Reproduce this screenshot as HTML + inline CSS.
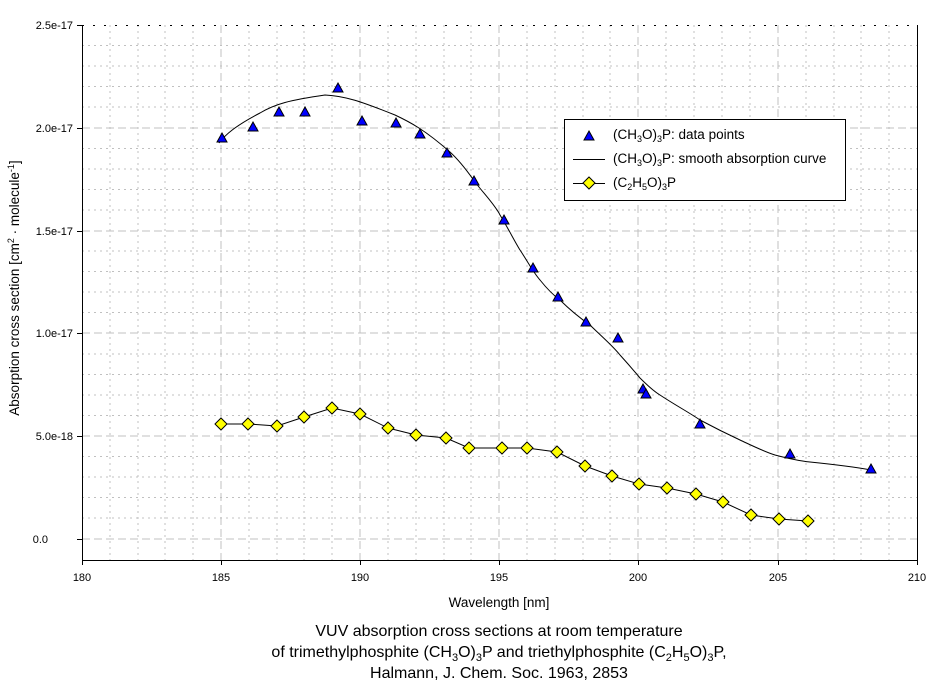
<!DOCTYPE html>
<html><head><meta charset="utf-8"><style>
html,body{margin:0;padding:0;background:#fff;}
svg{display:block;font-family:"Liberation Sans",Arial,sans-serif;}
</style></head><body>
<svg width="942" height="685" viewBox="0 0 942 685" xmlns="http://www.w3.org/2000/svg">
<rect width="942" height="685" fill="#fff"/>
<g stroke="#c0c0c0" stroke-width="1" stroke-dasharray="2,4">
<line x1="110" y1="25" x2="110" y2="560"/><line x1="138" y1="25" x2="138" y2="560"/><line x1="165" y1="25" x2="165" y2="560"/><line x1="193" y1="25" x2="193" y2="560"/>
<line x1="249" y1="25" x2="249" y2="560"/><line x1="277" y1="25" x2="277" y2="560"/><line x1="304" y1="25" x2="304" y2="560"/><line x1="332" y1="25" x2="332" y2="560"/>
<line x1="388" y1="25" x2="388" y2="560"/><line x1="416" y1="25" x2="416" y2="560"/><line x1="444" y1="25" x2="444" y2="560"/><line x1="471" y1="25" x2="471" y2="560"/>
<line x1="527" y1="25" x2="527" y2="560"/><line x1="555" y1="25" x2="555" y2="560"/><line x1="583" y1="25" x2="583" y2="560"/><line x1="610" y1="25" x2="610" y2="560"/>
<line x1="666" y1="25" x2="666" y2="560"/><line x1="694" y1="25" x2="694" y2="560"/><line x1="722" y1="25" x2="722" y2="560"/><line x1="750" y1="25" x2="750" y2="560"/>
<line x1="806" y1="25" x2="806" y2="560"/><line x1="834" y1="25" x2="834" y2="560"/><line x1="861" y1="25" x2="861" y2="560"/><line x1="889" y1="25" x2="889" y2="560"/>
</g>
<g stroke="#c0c0c0" stroke-width="1" stroke-dasharray="2,4">
<line x1="82" y1="45.5" x2="917" y2="45.5"/><line x1="82" y1="66" x2="917" y2="66"/><line x1="82" y1="86.5" x2="917" y2="86.5"/><line x1="82" y1="107" x2="917" y2="107"/>
<line x1="82" y1="148.5" x2="917" y2="148.5"/><line x1="82" y1="169" x2="917" y2="169"/><line x1="82" y1="189.5" x2="917" y2="189.5"/><line x1="82" y1="210" x2="917" y2="210"/>
<line x1="82" y1="251" x2="917" y2="251"/><line x1="82" y1="271.5" x2="917" y2="271.5"/><line x1="82" y1="292" x2="917" y2="292"/><line x1="82" y1="312.5" x2="917" y2="312.5"/>
<line x1="82" y1="354" x2="917" y2="354"/><line x1="82" y1="374.5" x2="917" y2="374.5"/><line x1="82" y1="395" x2="917" y2="395"/><line x1="82" y1="415.5" x2="917" y2="415.5"/>
<line x1="82" y1="456.5" x2="917" y2="456.5"/><line x1="82" y1="477" x2="917" y2="477"/><line x1="82" y1="497.5" x2="917" y2="497.5"/><line x1="82" y1="518" x2="917" y2="518"/>
</g>
<g stroke="#c0c0c0" stroke-width="1" stroke-dasharray="8,4">
<line x1="221" y1="25" x2="221" y2="560"/><line x1="360" y1="25" x2="360" y2="560"/><line x1="499" y1="25" x2="499" y2="560"/><line x1="638" y1="25" x2="638" y2="560"/><line x1="778" y1="25" x2="778" y2="560"/>
<line x1="82" y1="128" x2="917" y2="128"/><line x1="82" y1="231" x2="917" y2="231"/><line x1="82" y1="333" x2="917" y2="333"/><line x1="82" y1="436" x2="917" y2="436"/><line x1="82" y1="539" x2="917" y2="539"/>
</g>
<line x1="82" y1="25.5" x2="917" y2="25.5" stroke="#000" stroke-dasharray="2,9"/>
<line x1="82.5" y1="25" x2="82.5" y2="560" stroke="#000"/>
<line x1="82" y1="560.5" x2="917" y2="560.5" stroke="#000"/>
<line x1="917.5" y1="25" x2="917.5" y2="560" stroke="#000"/>
<g stroke="#000">
<line x1="77" y1="25.5" x2="82" y2="25.5"/><line x1="77" y1="128.5" x2="82" y2="128.5"/><line x1="77" y1="231.5" x2="82" y2="231.5"/><line x1="77" y1="333.5" x2="82" y2="333.5"/><line x1="77" y1="436.5" x2="82" y2="436.5"/><line x1="77" y1="539.5" x2="82" y2="539.5"/>
<line x1="82.5" y1="560" x2="82.5" y2="565"/><line x1="221.5" y1="560" x2="221.5" y2="565"/><line x1="360.5" y1="560" x2="360.5" y2="565"/><line x1="499.5" y1="560" x2="499.5" y2="565"/><line x1="638.5" y1="560" x2="638.5" y2="565"/><line x1="778.5" y1="560" x2="778.5" y2="565"/><line x1="917.5" y1="560" x2="917.5" y2="565"/>
</g>
<g font-size="11" fill="#000" text-anchor="end">
<text x="73" y="29">2.5e-17</text><text x="73" y="132">2.0e-17</text><text x="73" y="235">1.5e-17</text><text x="73" y="337">1.0e-17</text><text x="73" y="440">5.0e-18</text><text x="48" y="543">0.0</text>
</g>
<g font-size="11" fill="#000" text-anchor="middle">
<text x="82" y="581">180</text><text x="221" y="581">185</text><text x="360" y="581">190</text><text x="499" y="581">195</text><text x="638" y="581">200</text><text x="778" y="581">205</text><text x="917" y="581">210</text>
</g>
<text x="499" y="607" font-size="13.5" text-anchor="middle">Wavelength [nm]</text>
<text transform="translate(19,288) rotate(-90)" font-size="13.5" text-anchor="middle">Absorption cross section [cm<tspan font-size="9" dy="-5">2</tspan><tspan dy="5"> · molecule</tspan><tspan font-size="9" dy="-5">-1</tspan><tspan dy="5">]</tspan></text>
<g font-size="16" text-anchor="middle">
<text x="499" y="636">VUV absorption cross sections  at room temperature</text>
<text x="499" y="657">of trimethylphosphite (CH<tspan font-size="11" dy="4">3</tspan><tspan dy="-4">O)</tspan><tspan font-size="11" dy="4">3</tspan><tspan dy="-4">P and triethylphosphite (C</tspan><tspan font-size="11" dy="4">2</tspan><tspan dy="-4">H</tspan><tspan font-size="11" dy="4">5</tspan><tspan dy="-4">O)</tspan><tspan font-size="11" dy="4">3</tspan><tspan dy="-4">P,</tspan></text>
<text x="499" y="678">Halmann, J. Chem. Soc. 1963, 2853</text>
</g>
<path d="M219,143 C225,135 235,126 260,113 C275,104 290,100 325,95 C345,96 360,101 395,115 C410,122 425,130 450,152 C462,163 470,175 475,182 C485,195 495,205 500,215 C508,228 515,242 520,250 C528,262 533,272 540,280 C548,290 553,295 560,300 C570,310 580,318 590,325 C600,335 612,345 620,355 C630,366 635,372 640,378 C650,388 655,392 660,395 C675,405 690,413 700,420 C715,428 725,433 740,440 C755,447 765,452 775,455 C790,459 800,461 810,462 C840,465 855,467 871,470" fill="none" stroke="#000" stroke-width="1"/>
<polyline points="221,424 248,424 277,426 304,417 332,408 360,414 388,428 416,435 446,438 469,448 502,448 527,448 557,452 585,466 612,476 639,484 667,488 696,494 723,502 751,515 779,519 808,521" fill="none" stroke="#000" stroke-width="1"/>
<g fill="#ffff00" stroke="#000" stroke-width="1">
<path d="M221,418l6,6l-6,6l-6,-6z"/><path d="M248,418l6,6l-6,6l-6,-6z"/><path d="M277,420l6,6l-6,6l-6,-6z"/><path d="M304,411l6,6l-6,6l-6,-6z"/><path d="M332,402l6,6l-6,6l-6,-6z"/><path d="M360,408l6,6l-6,6l-6,-6z"/><path d="M388,422l6,6l-6,6l-6,-6z"/><path d="M416,429l6,6l-6,6l-6,-6z"/><path d="M446,432l6,6l-6,6l-6,-6z"/><path d="M469,442l6,6l-6,6l-6,-6z"/><path d="M502,442l6,6l-6,6l-6,-6z"/><path d="M527,442l6,6l-6,6l-6,-6z"/><path d="M557,446l6,6l-6,6l-6,-6z"/><path d="M585,460l6,6l-6,6l-6,-6z"/><path d="M612,470l6,6l-6,6l-6,-6z"/><path d="M639,478l6,6l-6,6l-6,-6z"/><path d="M667,482l6,6l-6,6l-6,-6z"/><path d="M696,488l6,6l-6,6l-6,-6z"/><path d="M723,496l6,6l-6,6l-6,-6z"/><path d="M751,509l6,6l-6,6l-6,-6z"/><path d="M779,513l6,6l-6,6l-6,-6z"/><path d="M808,515l6,6l-6,6l-6,-6z"/>
</g>
<g fill="#0000ff" stroke="#000" stroke-width="1">
<path d="M222,133l5,9h-10z"/><path d="M253,122l5,9h-10z"/><path d="M279,107l5,9h-10z"/><path d="M305,107l5,9h-10z"/><path d="M338,83l5,9h-10z"/><path d="M362,116l5,9h-10z"/><path d="M396,118l5,9h-10z"/><path d="M420,129l5,9h-10z"/><path d="M447,148l5,9h-10z"/><path d="M474,176l5,9h-10z"/><path d="M504,215l5,9h-10z"/><path d="M533,263l5,9h-10z"/><path d="M558,292l5,9h-10z"/><path d="M586,317l5,9h-10z"/><path d="M618,333l5,9h-10z"/><path d="M643,384l5,9h-10z"/><path d="M646,389l5,9h-10z"/><path d="M700,419l5,9h-10z"/><path d="M790,449l5,9h-10z"/><path d="M871,464l5,9h-10z"/>
</g>
<rect x="564.5" y="119.5" width="281" height="81" fill="#fff" stroke="#000"/>
<path d="M589,131l5,9h-10z" fill="#0000ff" stroke="#000"/>
<line x1="573" y1="159.5" x2="605" y2="159.5" stroke="#000"/>
<line x1="573" y1="183.5" x2="605" y2="183.5" stroke="#000"/>
<path d="M589,177l6,6l-6,6l-6,-6z" fill="#ffff00" stroke="#000"/>
<g font-size="13.5">
<text x="613" y="139">(CH<tspan font-size="9" dy="3">3</tspan><tspan dy="-3">O)</tspan><tspan font-size="9" dy="3">3</tspan><tspan dy="-3">P: data points</tspan></text>
<text x="613" y="163">(CH<tspan font-size="9" dy="3">3</tspan><tspan dy="-3">O)</tspan><tspan font-size="9" dy="3">3</tspan><tspan dy="-3">P: smooth absorption curve</tspan></text>
<text x="613" y="187">(C<tspan font-size="9" dy="3">2</tspan><tspan dy="-3">H</tspan><tspan font-size="9" dy="3">5</tspan><tspan dy="-3">O)</tspan><tspan font-size="9" dy="3">3</tspan><tspan dy="-3">P</tspan></text>
</g>
</svg>
</body></html>
